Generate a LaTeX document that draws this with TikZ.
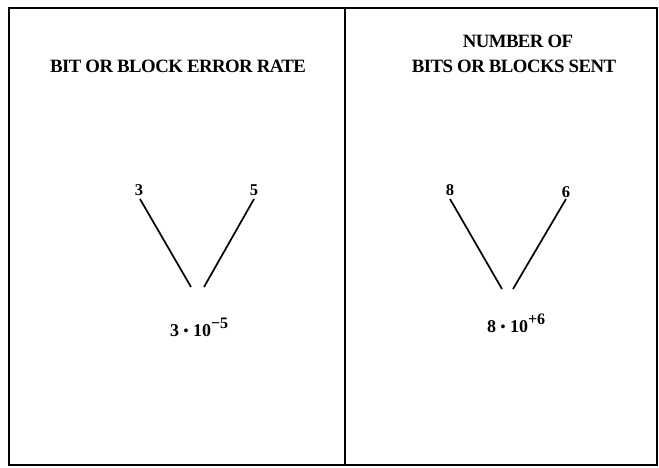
\documentclass[tikz,border=0pt]{standalone}
\usepackage{fontspec}
\setmainfont{Liberation Serif}
\newfontfamily\tightbf[LetterSpace=-3]{Liberation Serif Bold}
\begin{document}
\begin{tikzpicture}[x=1pt,y=-1pt,
  frame/.style={line width=1.8pt},
  stroke/.style={line width=1.7pt},
  title/.style={font=\fontsize{18.8}{22}\tightbf, inner sep=0pt, anchor=base},
  num/.style={font=\fontsize{16.5}{19}\bfseries, inner sep=0pt, anchor=base},
  res/.style={font=\fontsize{18}{21}\bfseries, inner sep=0pt, anchor=base west},
]
\useasboundingbox (0,0) rectangle (659,468);
\draw[frame] (9,8) rectangle (657,465);
\draw[frame] (345,8) -- (345,465);
\node[title] (t1) at (178,72.5) {BIT OR BLOCK ERROR RATE};
\node[title] (t2a) at (518,48) {NUMBER OF};
\node[title] (t2b) at (514,72.5) {BITS OR BLOCKS SENT};
\node[num] (n3) at (139,196) {3};
\node[num] (n5) at (254,196) {5};
\node[num] (n8) at (450,196) {8};
\node[num] (n6) at (566,197) {6};
\node[res] (r1) at (170,336) {3\hspace{4.5pt}\raisebox{0.1ex}{\fontsize{14}{16}\selectfont •}\hspace{4.5pt}10\raisebox{0.85ex}{\fontsize{16}{18}\bfseries −5}};
\node[res] (r2) at (487,332) {8\hspace{4.5pt}\raisebox{0.1ex}{\fontsize{14}{16}\selectfont •}\hspace{4.5pt}10\raisebox{0.85ex}{\fontsize{16}{18}\bfseries +6}};
\coordinate (a1) at (140,199);
\coordinate (a2) at (191,287);
\coordinate (b1) at (254,199);
\coordinate (b2) at (204,287);
\coordinate (c1) at (450,199);
\coordinate (c2) at (502,289);
\coordinate (d1) at (566,199);
\coordinate (d2) at (513,289);
\draw[stroke] (a1) -- (a2);
\draw[stroke] (b1) -- (b2);
\draw[stroke] (c1) -- (c2);
\draw[stroke] (d1) -- (d2);
\end{tikzpicture}
\end{document}
